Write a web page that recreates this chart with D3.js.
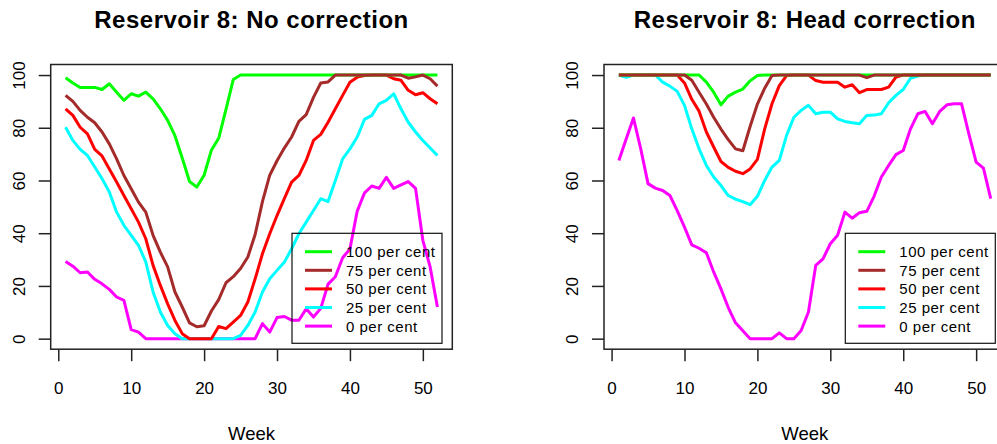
<!DOCTYPE html>
<html>
<head>
<meta charset="utf-8">
<script src="https://cdn.jsdelivr.net/npm/d3@7"></script>
<style>
  html, body { margin: 0; padding: 0; background: #ffffff; }
  svg { display: block; }
  text { font-family: "Liberation Sans", Arial, Helvetica, sans-serif; fill: #000; }
</style>
</head>
<body>
<svg id="chart" width="997" height="444"></svg>
<script>
// ---------- data ----------
const weeks = d3.range(1, 53);
const seriesNames = ["100 per cent", "75 per cent", "50 per cent", "25 per cent", "0 per cent"];
const seriesColors = ["#00ff00", "#a52a2a", "#ff0000", "#00ffff", "#ff00ff"];
const xTicks = [0, 10, 20, 30, 40, 50];
const yTicks = [0, 20, 40, 60, 80, 100];
const panelTitles = ["Reservoir 8: No correction", "Reservoir 8: Head correction"];
const xLabel = "Week";

// Panel 1: No correction
const noCorr100 = [99, 97, 95.3, 95.3, 95.3, 94.5, 96.7, 93.5, 90.4, 92.9, 92, 93.5, 91, 87.2, 82.8, 77, 68.5, 59.6, 57.5, 62,
  71.5, 76, 87, 98.3, 100, 100, 100, 100, 100, 100, 100, 100, 100, 100, 100, 100, 100, 100, 100, 100,
  100, 100, 100, 100, 100, 100, 100, 100, 100, 100, 100, 100];
const noCorr75 = [92.3, 90, 86.6, 84, 81.9, 78.4, 73.9, 68.2, 61.9, 56.9, 51.8, 48, 39.2, 32.8, 27.2, 17.7, 12, 6, 4.5, 4.9,
  10.5, 14.8, 21.2, 23.5, 26.6, 31, 39.5, 52, 62, 67.5, 72.3, 76.5, 82.4, 85, 91.5, 97, 97.4, 100, 100, 100,
  100, 100, 100, 100, 100, 100, 100, 98.8, 99.3, 100, 98.6, 95.8];
const noCorr50 = [87.2, 84.7, 80.2, 77.7, 71.8, 69.3, 64.4, 59.4, 54.3, 49.3, 44.2, 37.9, 27.8, 20.2, 13.2, 6.9, 1.9, 0, 0, 0,
  0, 4.6, 3.8, 6.3, 8.8, 13.9, 22.7, 32.2, 39.8, 46.7, 53.1, 59.4, 61.9, 67.6, 75.2, 77.5, 82.1, 87.2, 92.3, 97.3,
  99.2, 99.8, 100, 100, 100, 98.6, 98, 94.2, 92.5, 93.3, 91, 89.1];
const noCorr25 = [80.2, 75.2, 71.8, 69.5, 65.1, 60.7, 55.6, 48, 43, 39.2, 35.4, 29.1, 17.7, 10.1, 5, 1.9, 0, 0, 0, 0,
  0, 0, 0, 0, 1.2, 5, 10.1, 17.7, 22.7, 25.9, 29, 34.1, 39.8, 44.2, 48.6, 53.1, 52, 60, 68.2, 72,
  76.5, 83.2, 84.7, 89.1, 90.4, 92.9, 87.2, 82.1, 78.4, 75.2, 72.3, 69.5];
const noCorr0 = [29.3, 27.5, 25, 25.3, 22.5, 20.8, 18.7, 15.8, 14.5, 3.4, 2.5, 0, 0, 0, 0, 0, 0, 0, 0, 0,
  0, 0, 0, 0, 0, 0, 0, 5.7, 2.5, 8, 8.4, 7, 7, 11.3, 8.2, 11.5, 20.7, 23.5, 30.7, 34,
  48.4, 55.3, 57.9, 57, 61.2, 57, 58.3, 59.6, 57, 37.3, 27.2, 12];

// Panel 2: Head correction
const headCorr100 = [100, 100, 100, 100, 100, 100, 100, 100, 100, 100, 100, 100, 97.3, 93.5, 88.7, 92, 93.5, 94.7, 97.8, 99.8,
  100, 100, 100, 100, 100, 100, 100, 100, 100, 100, 100, 100, 100, 100, 100, 100, 100, 100, 100, 100,
  100, 100, 100, 100, 100, 100, 100, 100, 100, 100, 100, 100];
const headCorr75 = [100, 100, 100, 100, 100, 100, 100, 100, 100, 100, 98, 93.5, 89, 84, 79.5, 75.5, 72, 71.3, 80.5, 89,
  95, 99.8, 100, 100, 100, 100, 100, 100, 100, 100, 100, 100, 100, 100, 99, 100, 100, 100, 100, 100,
  100, 100, 100, 100, 100, 100, 100, 100, 100, 100, 100, 100];
const headCorr50 = [100, 100, 100, 100, 100, 100, 100, 100, 100, 97, 90.8, 86.3, 78.4, 72.7, 67.2, 65, 63.5, 62.6, 64.4, 68,
  79.6, 89.1, 96, 99.8, 100, 100, 100, 97.9, 97.3, 97.3, 97.3, 95.4, 96.3, 93.3, 94.5, 94.5, 94.5, 95.4, 99.2, 100,
  100, 100, 100, 100, 100, 100, 100, 100, 100, 100, 100, 100];
const headCorr25 = [100, 99.1, 100, 100, 100, 100, 97.3, 95.8, 93.8, 88.5, 79.6, 72, 65.7, 61.3, 58.1, 54.3, 52.9, 52, 50.8, 54,
  60, 65.1, 67.6, 77.1, 84, 86.6, 88.5, 85.3, 85.9, 85.9, 83.4, 82.4, 81.9, 81.5, 84.7, 84.8, 85.3, 89.5, 92.3, 94.5,
  98.8, 99.6, 100, 100, 100, 100, 100, 100, 100, 100, 100, 100];
const headCorr0 = [67.6, 75.7, 83.7, 72, 58.8, 57.1, 56.2, 54.3, 48.6, 42.3, 35.6, 34.3, 32.6, 25.3, 18.9, 11.8, 6, 3, 0, 0,
  0, 0, 2.2, 0, 0, 3.1, 10.1, 27.8, 30.3, 36, 39.2, 48, 45.7, 47.8, 48.3, 54, 61.3, 65.7, 69.8, 71.4,
  79.6, 85.3, 86.2, 81.5, 86.2, 88.7, 89.1, 89.1, 77.7, 67, 64.7, 53.1];

const panelSeries = [
  [noCorr100, noCorr75, noCorr50, noCorr25, noCorr0],
  [headCorr100, headCorr75, headCorr50, headCorr25, headCorr0]
];
// drawing order (index into series): brown drawn last, on top
const drawOrder = [4, 3, 2, 0, 1];

// ---------- layout ----------
const svg = d3.select("#chart");
const panelOffsets = [0, 553.3];
const boxLeft0 = 50.7, boxRight0 = 452.3, boxTop = 64.5, boxBottom = 349.2;

panelOffsets.forEach((dx, p) => {
  const x = d3.scaleLinear().domain([-1.04, 54.04]).range([boxLeft0 + dx, boxRight0 + dx]);
  const y = d3.scaleLinear().domain([-4, 104]).range([boxBottom, boxTop]);
  const g = svg.append("g");

  // lines
  const line = d3.line().x((d, i) => x(weeks[i])).y(d => y(d));
  drawOrder.forEach(si => {
    g.append("path")
      .datum(panelSeries[p][si])
      .attr("fill", "none")
      .attr("stroke", seriesColors[si])
      .attr("stroke-width", 3)
      .attr("stroke-linejoin", "round")
      .attr("stroke-linecap", "butt")
      .attr("d", line);
  });

  // box
  g.append("rect")
    .attr("x", x.range()[0]).attr("y", boxTop)
    .attr("width", x.range()[1] - x.range()[0]).attr("height", boxBottom - boxTop)
    .attr("fill", "none").attr("stroke", "#222").attr("stroke-width", 1.5);

  // x axis
  const xa = g.append("g").attr("transform", `translate(0,${boxBottom})`)
    .call(d3.axisBottom(x).tickValues(xTicks).tickSizeInner(12).tickSizeOuter(0).tickPadding(21).tickFormat(d3.format("d")));
  xa.select(".domain").remove();
  xa.selectAll(".tick line").attr("stroke", "#222").attr("stroke-width", 1.5);
  xa.selectAll(".tick text").attr("font-size", "17px")
    .style("font-family", "'Liberation Sans', Arial, sans-serif").attr("fill", "#000");

  // y axis (rotated labels, R style)
  const ya = g.append("g").attr("transform", `translate(${x.range()[0]},0)`)
    .call(d3.axisLeft(y).tickValues(yTicks).tickSizeInner(12).tickSizeOuter(0).tickFormat(d3.format("d")));
  ya.select(".domain").remove();
  ya.selectAll(".tick line").attr("stroke", "#222").attr("stroke-width", 1.5);
  ya.selectAll(".tick text")
    .attr("x", null).attr("dy", null)
    .attr("font-size", "17px")
    .style("font-family", "'Liberation Sans', Arial, sans-serif").attr("fill", "#000")
    .attr("text-anchor", "middle")
    .attr("transform", "translate(-26,0) rotate(-90)");

  // title
  const cx = (x.range()[0] + boxRight0 + dx) / 2;
  g.append("text").attr("x", cx).attr("y", 28)
    .attr("text-anchor", "middle").attr("font-size", "24px").attr("font-weight", "bold")
    .attr("letter-spacing", "0.5px")
    .text(panelTitles[p]);

  // x label
  g.append("text").attr("x", cx).attr("y", 440)
    .attr("text-anchor", "middle").attr("font-size", "18.5px")
    .text(xLabel);

  // legend (transparent background, as in the reference)
  const lgX = 292 + dx, lgY = 233.3, lgW = 150, lgH = 110;
  const lg = g.append("g");
  lg.append("rect").attr("x", lgX).attr("y", lgY).attr("width", lgW).attr("height", lgH)
    .attr("fill", "none").attr("stroke", "#111").attr("stroke-width", 1.2);
  seriesNames.forEach((name, i) => {
    const ry = 251.7 + i * 18.6;
    lg.append("line").attr("x1", lgX + 13).attr("x2", lgX + 40).attr("y1", ry).attr("y2", ry)
      .attr("stroke", seriesColors[i]).attr("stroke-width", 3);
    lg.append("text").attr("x", lgX + 54).attr("y", ry).attr("dy", "0.36em")
      .attr("font-size", "15px").attr("letter-spacing", "0.5px").text(name);
  });
});
</script>
</body>
</html>
